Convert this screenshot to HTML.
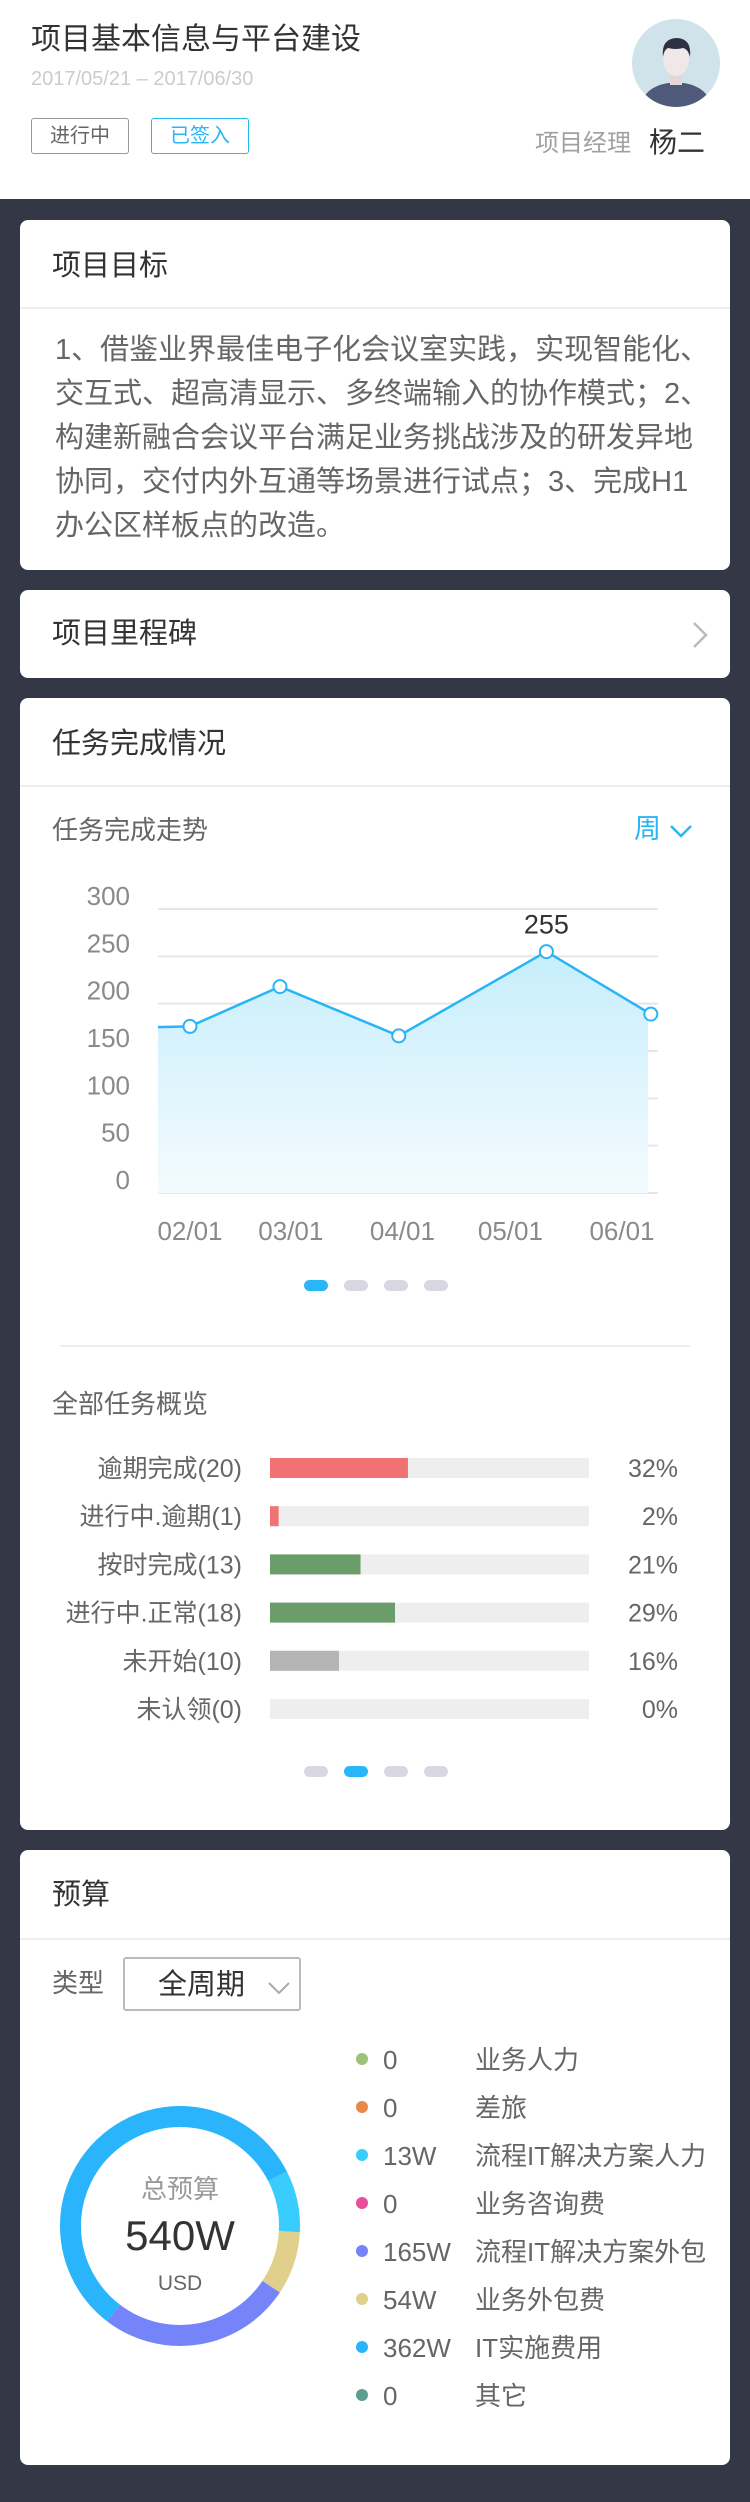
<!DOCTYPE html>
<html><head><meta charset="utf-8">
<style>
*{margin:0;padding:0;box-sizing:border-box}
body{width:750px;height:2502px;background:#343745;font-family:"Liberation Sans","Noto Sans CJK SC",sans-serif;position:relative;overflow:hidden}
.abs{position:absolute;white-space:nowrap}
.card{position:absolute;left:20px;width:710px;background:#fff;border-radius:8px}
.sep{position:absolute;left:0;width:710px;height:2px;background:#eeeeee}
.ttl{position:absolute;left:32px;font-size:29px;color:#333;line-height:40px}
</style></head><body>
<div style="position:absolute;left:0;top:0;width:750px;height:199px;background:#fff">
  <div class="abs" style="left:31px;top:20px;font-size:30px;color:#333;line-height:40px">项目基本信息与平台建设</div>
  <div class="abs" style="left:31px;top:67px;font-size:20px;color:#cccccc;line-height:24px">2017/05/21 – 2017/06/30</div>
  <div class="abs" style="left:31px;top:118px;width:98px;height:36px;border:1px solid #999;border-radius:3px;font-size:20px;color:#666;text-align:center;line-height:34px">进行中</div>
  <div class="abs" style="left:151px;top:118px;width:98px;height:36px;border:1px solid #29b6f6;border-radius:3px;font-size:20px;color:#29b6f6;text-align:center;line-height:34px">已签入</div>
  <svg class="abs" style="left:632px;top:19px" width="88" height="88" viewBox="0 0 88 88">
    <defs><clipPath id="av"><circle cx="44" cy="44" r="44"/></clipPath></defs>
    <g clip-path="url(#av)">
      <rect width="88" height="88" fill="#d0e2ea"/>
      <path d="M8 88 Q12 68 36 64 L52 64 Q76 68 80 88Z" fill="#4f5a7a"/>
      <rect x="38" y="52" width="12" height="14" fill="#e6d6d6"/>
      <ellipse cx="44" cy="40" rx="13" ry="17" fill="#f0e8e8"/>
      <path d="M31 38 Q29 20 44 19 Q60 19 58 38 Q56 30 51 29 Q44 31 36 29 Q32 31 31 38Z" fill="#2c3242"/>
    </g>
  </svg>
  <div class="abs" style="left:535px;top:128px;font-size:24px;color:#a0a0a0;line-height:32px">项目经理</div>
  <div class="abs" style="left:649px;top:125px;font-size:28px;color:#333;line-height:36px">杨二</div>
</div>

<div class="card" style="top:220px;height:350px">
  <div class="ttl" style="top:26px">项目目标</div>
  <div class="sep" style="top:87px"></div>
  <div class="abs" style="left:35px;top:108px;font-size:29px;color:#666;line-height:44px">1、借鉴业界最佳电子化会议室实践，实现智能化、<br>交互式、超高清显示、多终端输入的协作模式；2、<br>构建新融合会议平台满足业务挑战涉及的研发异地<br>协同，交付内外互通等场景进行试点；3、完成H1<br>办公区样板点的改造。</div>
</div>

<div class="card" style="top:590px;height:88px">
  <div class="ttl" style="top:24px">项目里程碑</div>
  <svg class="abs" style="left:670px;top:30px" width="20" height="30"><path d="M4 3 L16 15 L4 27" fill="none" stroke="#bbb" stroke-width="2.5"/></svg>
</div>

<div class="card" style="top:698px;height:1132px">
  <div class="ttl" style="top:26px">任务完成情况</div>
  <div class="sep" style="top:87px"></div>
  <div class="abs" style="left:32px;top:115px;font-size:26px;color:#666;line-height:34px">任务完成走势</div>
  <div class="abs" style="left:614px;top:113px;font-size:27px;color:#29b6f6;line-height:36px">周 <svg width="24" height="16" style="vertical-align:middle"><path d="M2 3 L12 13 L22 3" fill="none" stroke="#29b6f6" stroke-width="2.5"/></svg></div>
  <div class="abs" style="left:0;top:582px;width:710px;height:11px">
    <div style="position:absolute;left:284px;width:24px;height:11px;border-radius:6px;background:#29b6f6"></div>
    <div style="position:absolute;left:324px;width:24px;height:11px;border-radius:6px;background:#d8d8e2"></div>
    <div style="position:absolute;left:364px;width:24px;height:11px;border-radius:6px;background:#d8d8e2"></div>
    <div style="position:absolute;left:404px;width:24px;height:11px;border-radius:6px;background:#d8d8e2"></div>
  </div>
  <div class="abs" style="left:40px;top:647px;width:630px;height:2px;background:#eeeeee"></div>
  <div class="abs" style="left:32px;top:689px;font-size:26px;color:#666;line-height:34px">全部任务概览</div>
  <div class="abs" style="left:0;top:1068px;width:710px;height:11px">
    <div style="position:absolute;left:284px;width:24px;height:11px;border-radius:6px;background:#d8d8e2"></div>
    <div style="position:absolute;left:324px;width:24px;height:11px;border-radius:6px;background:#29b6f6"></div>
    <div style="position:absolute;left:364px;width:24px;height:11px;border-radius:6px;background:#d8d8e2"></div>
    <div style="position:absolute;left:404px;width:24px;height:11px;border-radius:6px;background:#d8d8e2"></div>
  </div>
</div>

<div class="card" style="top:1850px;height:615px">
  <div class="ttl" style="top:25px">预算</div>
  <div class="sep" style="top:88px"></div>
  <div class="abs" style="left:32px;top:116px;font-size:26px;color:#666;line-height:34px">类型</div>
  <div class="abs" style="left:103px;top:107px;width:178px;height:54px;border:2px solid #bbb;border-radius:3px">
    <span style="position:absolute;left:33px;top:7px;font-size:29px;color:#333;line-height:38px">全周期</span>
    <svg style="position:absolute;left:142px;top:22px" width="24" height="14"><path d="M2 2 L12 12 L22 2" fill="none" stroke="#aaa" stroke-width="2"/></svg>
  </div>
</div>

<svg id="trend" class="abs" style="left:0;top:0" width="750" height="1300"></svg>
<svg id="bars" class="abs" style="left:0;top:1400px" width="750" height="340"></svg>
<svg id="donut" class="abs" style="left:0;top:1850px" width="750" height="600"></svg>

<script>
// ---- trend chart data ----
const trendDays = [20, 31, 56, 89, 130, 159];
const trendValues = [175, 176, 218, 166, 255, 189];
const trendMarkers = [false, true, true, true, true, true];
const yTicks = [0, 50, 100, 150, 200, 250, 300];
const xTickDays = [31, 59, 90, 120, 151];
const xTickLabels = ["02/01", "03/01", "04/01", "05/01", "06/01"];
// ---- overview bars ----
const barLabels = ["逾期完成(20)", "进行中.逾期(1)", "按时完成(13)", "进行中.正常(18)", "未开始(10)", "未认领(0)"];
const barPcts = [32, 2, 21, 29, 16, 0];
const barColors = ["#f07272", "#f07272", "#6a9d6a", "#6a9d6a", "#b4b4b4", "#b4b4b4"];
// ---- budget ----
const budgetNames = ["业务人力", "差旅", "流程IT解决方案人力", "业务咨询费", "流程IT解决方案外包", "业务外包费", "IT实施费用", "其它"];
const budgetValues = [0, 0, 13, 0, 165, 54, 362, 0];
const budgetLabels = ["0", "0", "13W", "0", "165W", "54W", "362W", "0"];
const budgetColors = ["#9ec27a", "#e8894a", "#38cdfc", "#e84f9a", "#7585f9", "#e0d08c", "#29b4fc", "#5e9e92"];

const NS = "http://www.w3.org/2000/svg";
function mk(parent, tag, attrs){const e=document.createElementNS(NS,tag);for(const k in attrs)e.setAttribute(k,attrs[k]);parent.appendChild(e);return e;}

// trend
(function(){
  const svg=document.getElementById('trend');
  const L=158,R=658,Y0=1193,Y300=909;
  const x=d=>190+(d-31)*3.6;
  const y=v=>Y0+(Y300-Y0)*v/300;
  const defs=mk(svg,'defs',{});
  const g=mk(defs,'linearGradient',{id:'fillg',x1:0,y1:0,x2:0,y2:1});
  mk(g,'stop',{offset:'0','stop-color':'#c6eefc'});
  mk(g,'stop',{offset:'1','stop-color':'#f4fbfe'});
  const cp=mk(defs,'clipPath',{id:'cpa'});mk(cp,'rect',{x:L,y:800,width:648-L,height:500});
  const cl=mk(defs,'clipPath',{id:'cpl'});mk(cl,'rect',{x:L,y:800,width:560,height:500});
  yTicks.forEach(t=>{
    const gl=mk(svg,'line',{x1:L,x2:R,y1:y(t),y2:y(t),stroke:'#e6e6e6','stroke-width':2});
    
    
    const tx=mk(svg,'text',{x:130,y:y(t)-4,'text-anchor':'end','font-size':26,fill:'#8a8a8a'});
    tx.textContent=t;
    
    
  });
  xTickDays.forEach((d,i)=>{
    const tx=mk(svg,'text',{x:x(d),y:1240,'text-anchor':'middle','font-size':26,fill:'#8a8a8a'});
    tx.textContent=xTickLabels[i];
    
    
  });
  let pts=trendDays.map((d,i)=>[x(d),y(trendValues[i])]);
  const area=mk(svg,'path',{d:'M'+pts.map(p=>p.join(',')).join(' L')+' L'+pts[pts.length-1][0]+','+Y0+' L'+pts[0][0]+','+Y0+'Z',fill:'url(#fillg)','clip-path':'url(#cpa)'});
  
  
  const line=mk(svg,'path',{d:'M'+pts.map(p=>p.join(',')).join(' L'),fill:'none',stroke:'#29b4f6','stroke-width':2.5,'clip-path':'url(#cpl)'});
  
  
  let mi=0;trendValues.forEach((v,i)=>{if(v>trendValues[mi])mi=i;});
  pts.forEach((p,i)=>{
    if(!trendMarkers[i])return;
    const c=mk(svg,'circle',{cx:p[0],cy:p[1],r:6.5,fill:'#fff',stroke:'#29b4f6','stroke-width':2});
    
    
  });
  const lab=mk(svg,'text',{x:pts[mi][0],y:pts[mi][1]-18,'text-anchor':'middle','font-size':27,fill:'#333'});
  lab.textContent=trendValues[mi];
  
  
})();

// bars
(function(){
  const svg=document.getElementById('bars');
  const X0=270,W=319,MAX=74;
  barLabels.forEach((lb,i)=>{
    const cy=68+i*48.2;
    const t=mk(svg,'text',{x:242,y:cy+9,'text-anchor':'end','font-size':25,fill:'#666'});
    t.textContent=lb;
    
    
    const tr=mk(svg,'rect',{x:X0,y:cy-10,width:W,height:20,fill:'#eeeeee'});
    
    
    const b=mk(svg,'rect',{x:X0,y:cy-10,width:W*barPcts[i]/MAX,height:20,fill:barColors[i]});
    
    
    const p=mk(svg,'text',{x:678,y:cy+9,'text-anchor':'end','font-size':25,fill:'#666'});
    p.textContent=barPcts[i]+'%';
    
    
  });
})();

// donut
(function(){
  const svg=document.getElementById('donut');
  const cx=180,cy=376,r=109.5,sw=21;
  const idx=budgetValues.map((v,i)=>i).filter(i=>budgetValues[i]>0).sort((a,b)=>budgetValues[a]-budgetValues[b]);
  const MINA=30;
  const tot=idx.reduce((s,i)=>s+budgetValues[i],0);
  let ang=idx.map(i=>budgetValues[i]/tot*360);
  const small=ang.map(a=>a<MINA);
  const fixed=small.filter(s=>s).length*MINA;
  const rest=idx.reduce((s,i,k)=>small[k]?s:s+budgetValues[i],0);
  ang=ang.map((a,k)=>small[k]?MINA:budgetValues[idx[k]]/rest*(360-fixed));
  let a0=63;
  const P=a=>{const t=(a-90)*Math.PI/180;return [cx+r*Math.cos(t),cy+r*Math.sin(t)];};
  idx.forEach((i,k)=>{
    const a1=a0+ang[k];const s=P(a0),e=P(a1);
    const arc=mk(svg,'path',{d:`M${s[0]},${s[1]} A${r},${r} 0 ${ang[k]>180?1:0} 1 ${e[0]},${e[1]}`,fill:'none',stroke:budgetColors[i],'stroke-width':sw});
    
    
    a0=a1;
  });
  const t1=mk(svg,'text',{x:cx,y:348,'text-anchor':'middle','font-size':26,fill:'#999'});t1.textContent='总预算';
  
  
  const t2=mk(svg,'text',{x:cx,y:400,'text-anchor':'middle','font-size':42,fill:'#333'});t2.textContent='540W';
  
  
  const t3=mk(svg,'text',{x:cx,y:440,'text-anchor':'middle','font-size':21,fill:'#666'});t3.textContent='USD';
  
  
  budgetNames.forEach((n,i)=>{
    const yy=209+i*48;
    const d=mk(svg,'circle',{cx:362,cy:yy,r:6,fill:budgetColors[i]});
    
    
    const v=mk(svg,'text',{x:383,y:yy+10,'font-size':26,fill:'#666'});v.textContent=budgetLabels[i];
    
    
    const nm=mk(svg,'text',{x:475,y:yy+10,'font-size':26,fill:'#666'});nm.textContent=n;
    
    
  });
})();
</script>
</body></html>
